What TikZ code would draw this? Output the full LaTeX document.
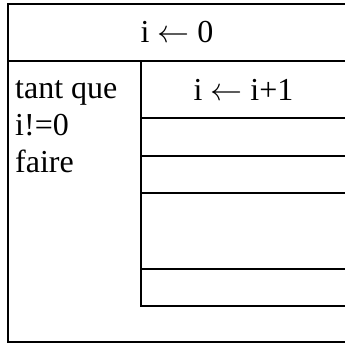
\RequirePackage{fix-cm}
\documentclass[tikz,border=0pt]{standalone}
\usepackage{fontspec}
\setmainfont{Liberation Serif}
\usepackage{tikz}
\usetikzlibrary{positioning}
\tikzset{
  cell/.style={
    draw=black,
    line width=1.3pt,
    anchor=north west,
    inner sep=0pt,
    outer sep=0pt,
    font=\fontsize{32}{36}\selectfont
  },
  cellnote/.style={
    anchor=north west,
    align=left,
    inner sep=0pt,
    font=\fontsize{32}{37}\selectfont
  }
}
\begin{document}
\begin{tikzpicture}[x=1pt,y=-1pt]
    \useasboundingbox (0,0) rectangle (345,345);
    \node[cell, minimum width=338pt, minimum height=338pt] (frame) at (8,4) {};
    \node[cell, minimum width=338pt, minimum height=57pt] (init) at (frame.north west) {i $\leftarrow$ 0};
    \node[cellnote] (condtext) at (15,80) {tant que\\i!=0\\faire};
    \node[cell, minimum width=205pt, minimum height=57pt] (incr) at (141,61) {i $\leftarrow$ i+1};
    \node[cell, minimum width=205pt, minimum height=38pt, below=0pt of incr] (row1) {};
    \node[cell, minimum width=205pt, minimum height=37pt, below=0pt of row1] (row2) {};
    \node[cell, minimum width=205pt, minimum height=76pt, below=0pt of row2] (row3) {};
    \node[cell, minimum width=205pt, minimum height=37pt, below=0pt of row3] (row4) {};
\end{tikzpicture}
\end{document}
